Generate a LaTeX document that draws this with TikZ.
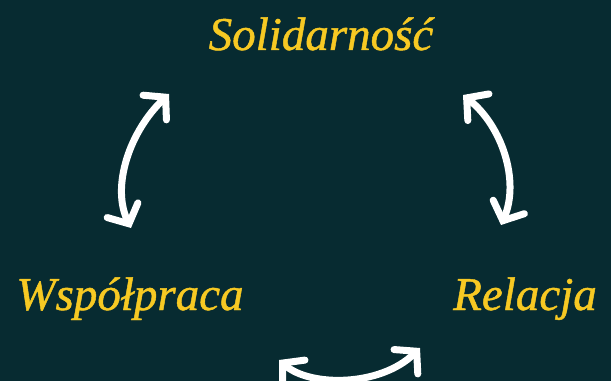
\documentclass[tikz,border=0pt]{standalone}
\usepackage{fontspec}
\setmainfont{Liberation Serif}
\usetikzlibrary{arrows.meta}
\definecolor{bgc}{HTML}{072B31}
\definecolor{gold}{HTML}{F7C923}
\begin{document}
\begin{tikzpicture}[x=1pt,y=1pt,
  lbl/.style={text=gold,font=\fontsize{47}{47}\selectfont\itshape\addfontfeature{FakeBold=1},inner sep=0pt,anchor=base},
  bar/.style={draw=white,line width=7pt,line cap=round,
     {Straight Barb[length=15pt,width=34pt,line cap=round]}-{Straight Barb[length=15pt,width=34pt,line cap=round]}}]
\fill[bgc] (0,0) rectangle (611,381);
\useasboundingbox (0,0) rectangle (611,381);
\node[lbl] (sol) at (321,331) {Solidarność};
\node[lbl] (wsp) at (130,71) {Współpraca};
\node[lbl] (rel) at (525,71) {Relacja};
\coordinate (l1) at (169,287);
\coordinate (l2) at (131,153);
\coordinate (r1) at (463,286);
\coordinate (r2) at (501,156);
\coordinate (b1) at (279,21);
\coordinate (b2) at (420,33);
\draw[bar] (l1) .. controls (130,250) and (111,195) .. (l2);
\draw[bar] (r1) .. controls (502,255) and (520,200) .. (r2);
\draw[bar] (b1) .. controls (310,-6) and (380,-6) .. (b2);
\end{tikzpicture}
\end{document}
